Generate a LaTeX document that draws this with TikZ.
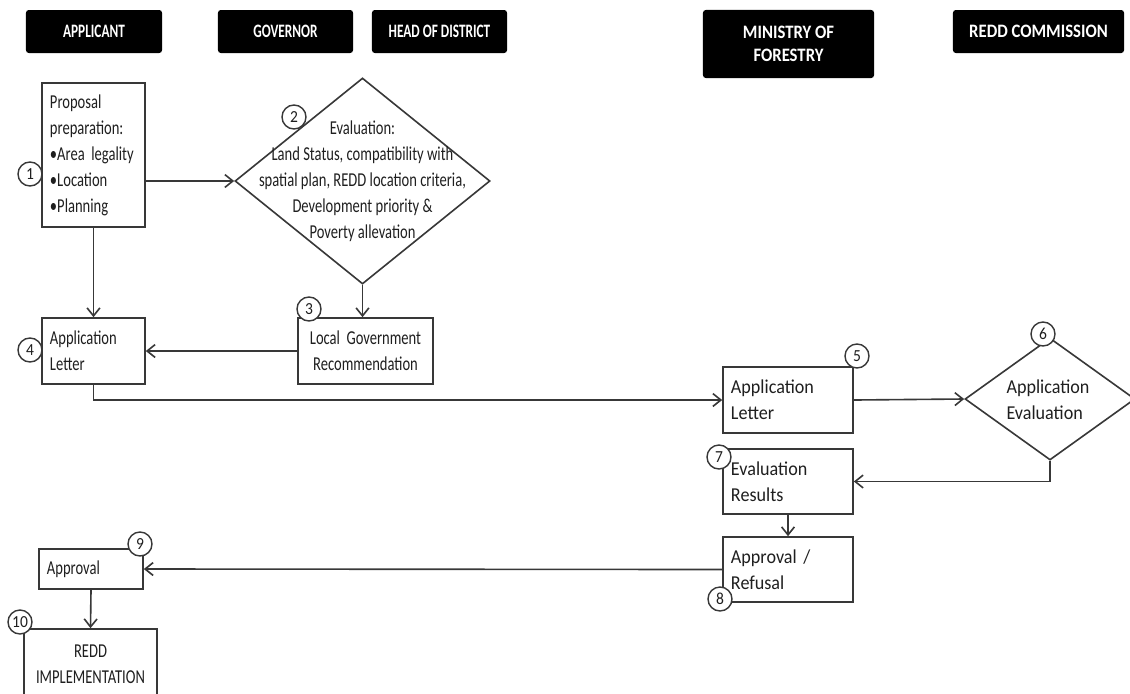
\documentclass[tikz,border=0pt]{standalone}
\usepackage{fontspec}
\setmainfont{Carlito}[FakeStretch=0.92]
\newfontfamily\leftfont{Carlito}[FakeStretch=0.74]
\newfontfamily\hdrfont{Carlito}[FakeStretch=0.7]
\newfontfamily\hdrwidefont{Carlito}[FakeStretch=0.88]
\usetikzlibrary{shapes.geometric,arrows.meta}

\definecolor{linegray}{HTML}{383838}
\definecolor{textgray}{HTML}{1f1f1f}

\tikzset{
  hdr/.style={fill=black, rounded corners=2pt, text=white, align=center, inner sep=0pt,
    font=\hdrfont\bfseries\fontsize{13.5}{16.3}\selectfont},
  hdrwide/.style={hdr, font=\hdrwidefont\bfseries\fontsize{13.5}{16.3}\selectfont},
  stepbox/.style={draw=linegray, line width=1.15pt, fill=white, inner xsep=0.2cm, inner ysep=0pt,
    align=left, text=textgray},
  lefttext/.style={font=\leftfont\fontsize{14}{18.5}\selectfont},
  decide/.style={draw=linegray, line width=1.15pt, diamond, inner sep=0pt},
  num/.style={draw=linegray, line width=1pt, fill=white, circle, inner sep=0pt,
    minimum size=0.6cm, text=textgray, font=\fontsize{12}{13}\selectfont},
  flow/.style={draw=linegray, line width=1.15pt, -{Straight Barb[length=0.2cm,width=0.32cm]}},
}

\begin{document}
\begin{tikzpicture}[x=0.025cm, y=-0.025cm, font=\fontsize{14}{18.5}\selectfont]
  \useasboundingbox (0,0) rectangle (1130,693);
  \clip (0,0) rectangle (1130,693);

  % lane headers
  \node[hdr, minimum width=3.4cm, minimum height=1.075cm] (applicant) at (94,31.5) {APPLICANT};
  \node[hdr, minimum width=3.375cm, minimum height=1.075cm] (governor) at (285.5,31.5) {GOVERNOR};
  \node[hdr, minimum width=3.375cm, minimum height=1.075cm] (district) at (439.5,31.5) {HEAD OF DISTRICT};
  \node[hdrwide, minimum width=4.275cm, minimum height=1.7cm] (ministry) at (788.5,44) {MINISTRY OF\\FORESTRY};
  \node[hdrwide, minimum width=4.275cm, minimum height=1.075cm] (commission) at (1038.5,31.5) {REDD COMMISSION};

  % steps
  \node[stepbox, lefttext, text width=2.175cm, minimum height=3.6cm] (box1) at (93.5,155)
    {Proposal\\preparation:\\•Area legality\\•Location\\•Planning};
  \node[decide, minimum width=6.375cm, minimum height=5.15cm] (d2) at (362.5,181) {};
  \node[lefttext, align=center, text=textgray] (d2text) at (362.5,181)
    {Evaluation:\\Land Status, compatibility with\\spatial plan, REDD location criteria,\\Development priority \&\\Poverty allevation};
  \node[stepbox, lefttext, align=center, text width=2.975cm, minimum height=1.65cm] (box3) at (365.5,351)
    {Local Government\\Recommendation};
  \node[stepbox, lefttext, text width=2.175cm, minimum height=1.65cm] (box4) at (93.5,351) {Application\\Letter};
  \node[stepbox, text width=2.85cm, minimum height=1.65cm] (box5) at (788,400) {Application\\Letter};
  \node[decide, minimum width=4.25cm, minimum height=3.05cm] (d6) at (1050,399) {};
  \node[align=left, text=textgray] (d6text) at (1048,400) {Application\\Evaluation};
  \node[stepbox, text width=2.85cm, minimum height=1.625cm] (box7) at (788,481.5) {Evaluation\\Results};
  \node[stepbox, text width=2.85cm, minimum height=1.625cm] (box8) at (788,569.5) {Approval /\\Refusal};
  \node[stepbox, lefttext, text width=2.2cm, minimum height=1.0cm] (box9) at (91,569) {Approval};
  \node[stepbox, lefttext, align=center, text width=2.925cm, minimum height=1.775cm] (box10) at (90.5,664.5)
    {REDD\\IMPLEMENTATION};

  % connectors
  \draw[flow] (box1.east |- d2.west) -- (d2.west);
  \draw[flow] (box1.south) -- (box4.north);
  \draw[flow] (d2.south) -- (d2.south |- box3.north);
  \draw[flow] (box3.west) -- (box4.east);
  \draw[flow] (box4.south) |- (box5.west);
  \draw[flow] (box5.east) -- (d6.west);
  \draw[flow] (d6.south) |- (box7.east);
  \draw[flow] (box7.south) -- (box8.north);
  \draw[flow] (box8.west) -- (box9.east);
  \draw[flow] (box9.south) -- (box10.north);

  % step numbers
  \node[num] (n1) at (30,174) {1};
  \node[num] (n2) at (294,117) {2};
  \node[num] (n3) at (309,309) {3};
  \node[num] (n4) at (30,350) {4};
  \node[num] (n5) at (857,356) {5};
  \node[num] (n6) at (1043,334) {6};
  \node[num] (n7) at (719,457) {7};
  \node[num] (n8) at (720,599) {8};
  \node[num] (n9) at (140,544) {9};
  \node[num] (n10) at (20,622) {10};
\end{tikzpicture}
\end{document}
